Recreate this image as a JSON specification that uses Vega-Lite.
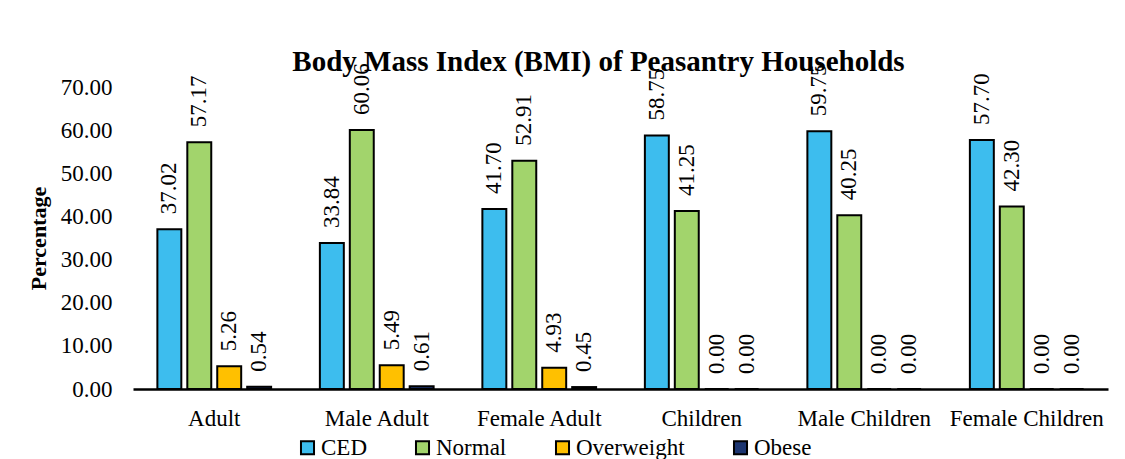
{
  "$schema": "https://vega.github.io/schema/vega-lite/v6.json",
  "width": 975,
  "height": 302,
  "autosize": {"type": "none"},
  "padding": {"left": 133, "top": 87, "right": 17, "bottom": 70},
  "background": "white",
  "title": {
    "text": "Body Mass Index (BMI) of  Peasantry Households",
    "font": "Liberation Serif",
    "fontSize": 29,
    "fontWeight": "bold",
    "color": "black",
    "anchor": "middle",
    "dx": -22,
    "offset": -14,
    "frame": "group"
  },
  "data": {
    "values": [
      {"group": "Adult", "category": "CED", "value": 37.02},
      {"group": "Adult", "category": "Normal", "value": 57.17},
      {"group": "Adult", "category": "Overweight", "value": 5.26},
      {"group": "Adult", "category": "Obese", "value": 0.54},
      {"group": "Male Adult", "category": "CED", "value": 33.84},
      {"group": "Male Adult", "category": "Normal", "value": 60.06},
      {"group": "Male Adult", "category": "Overweight", "value": 5.49},
      {"group": "Male Adult", "category": "Obese", "value": 0.61},
      {"group": "Female Adult", "category": "CED", "value": 41.70},
      {"group": "Female Adult", "category": "Normal", "value": 52.91},
      {"group": "Female Adult", "category": "Overweight", "value": 4.93},
      {"group": "Female Adult", "category": "Obese", "value": 0.45},
      {"group": "Children", "category": "CED", "value": 58.75},
      {"group": "Children", "category": "Normal", "value": 41.25},
      {"group": "Children", "category": "Overweight", "value": 0.00},
      {"group": "Children", "category": "Obese", "value": 0.00},
      {"group": "Male Children", "category": "CED", "value": 59.75},
      {"group": "Male Children", "category": "Normal", "value": 40.25},
      {"group": "Male Children", "category": "Overweight", "value": 0.00},
      {"group": "Male Children", "category": "Obese", "value": 0.00},
      {"group": "Female Children", "category": "CED", "value": 57.70},
      {"group": "Female Children", "category": "Normal", "value": 42.30},
      {"group": "Female Children", "category": "Overweight", "value": 0.00},
      {"group": "Female Children", "category": "Obese", "value": 0.00}
    ]
  },
  "encoding": {
    "x": {
      "field": "group",
      "type": "nominal",
      "sort": ["Adult", "Male Adult", "Female Adult", "Children", "Male Children", "Female Children"],
      "scale": {"paddingInner": 0.3, "paddingOuter": 0.15},
      "axis": {
        "title": null,
        "labelAngle": 0,
        "labelFont": "Liberation Serif",
        "labelFontSize": 23,
        "labelColor": "black",
        "labelPadding": 18,
        "ticks": false,
        "domainColor": "black",
        "domainWidth": 2.5
      }
    },
    "xOffset": {
      "field": "category",
      "type": "nominal",
      "sort": ["CED", "Normal", "Overweight", "Obese"],
      "scale": {"paddingInner": 0.2, "paddingOuter": 0}
    },
    "y": {
      "field": "value",
      "type": "quantitative",
      "scale": {"domain": [0, 70], "nice": false},
      "axis": {
        "title": "Percentage",
        "titleFont": "Liberation Serif",
        "titleFontSize": 22,
        "titleFontWeight": "bold",
        "titleColor": "black",
        "titlePadding": 10,
        "format": ".2f",
        "values": [0, 10, 20, 30, 40, 50, 60, 70],
        "labelFont": "Liberation Serif",
        "labelFontSize": 23,
        "labelColor": "black",
        "labelPadding": 21,
        "ticks": false,
        "domain": false,
        "grid": false
      }
    }
  },
  "layer": [
    {
      "mark": {"type": "bar", "stroke": "black", "strokeWidth": 2},
      "encoding": {
        "color": {
          "field": "category",
          "type": "nominal",
          "sort": ["CED", "Normal", "Overweight", "Obese"],
          "scale": {
            "domain": ["CED", "Normal", "Overweight", "Obese"],
            "range": ["#3dbdee", "#a2d46c", "#ffc000", "#1c3570"]
          },
          "legend": {
            "title": null,
            "orient": "none",
            "direction": "horizontal",
            "legendX": 163,
            "legendY": 349,
            "symbolType": "square",
            "symbolSize": 170,
            "symbolStrokeColor": "black",
            "symbolStrokeWidth": 2,
            "labelFont": "Liberation Serif",
            "labelFontSize": 23,
            "labelColor": "black",
            "labelOffset": 2,
            "columnPadding": 44
          }
        }
      }
    },
    {
      "mark": {
        "type": "text",
        "angle": 270,
        "align": "left",
        "baseline": "middle",
        "dx": 15,
        "font": "Liberation Serif",
        "fontSize": 23,
        "color": "black"
      },
      "encoding": {
        "text": {"field": "value", "type": "quantitative", "format": ".2f"}
      }
    }
  ],
  "config": {
    "font": "Liberation Serif",
    "text": {"font": "Liberation Serif"},
    "legend": {"labelFont": "Liberation Serif"},
    "axis": {"labelFont": "Liberation Serif", "titleFont": "Liberation Serif"},
    "view": {"stroke": null}
  }
}
